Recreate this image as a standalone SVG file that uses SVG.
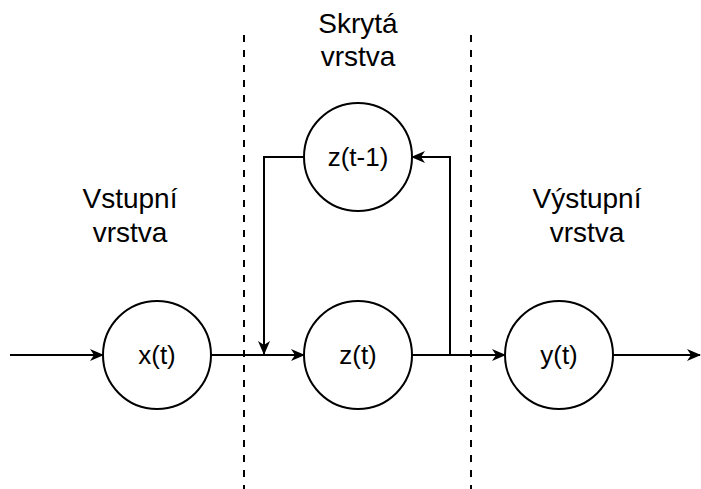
<svg xmlns="http://www.w3.org/2000/svg" width="701" height="489" viewBox="0 0 701 489">
  <style>
    .node circle { fill: #ffffff; stroke: #000000; stroke-width: 2; }
    .label { font-family: "Liberation Sans", Arial, sans-serif; font-size: 28px; fill: #000000; text-anchor: middle; }
    .node text { font-size: 26px; }
    .edge { fill: none; stroke: #000000; stroke-width: 2; }
    .divider { stroke: #000000; stroke-width: 2; stroke-dasharray: 7 8; }
  </style>
  <defs>
    <marker id="arrow" viewBox="0 0 14 12" refX="13" refY="6" markerWidth="14" markerHeight="12" markerUnits="userSpaceOnUse" orient="auto">
      <path d="M0,0 L14,6 L0,12 L4,6 Z" fill="#000000"/>
    </marker>
  </defs>
  <rect width="701" height="489" fill="#ffffff"/>

  <!-- layer dividers -->
  <g id="dividers">
    <line class="divider" x1="244" y1="35" x2="244" y2="489"/>
    <line class="divider" x1="471" y1="35" x2="471" y2="489"/>
  </g>

  <!-- layer titles -->
  <g id="titles">
    <text class="label" x="358" y="33">Skrytá</text>
    <text class="label" x="358" y="66">vrstva</text>
    <text class="label" x="130" y="208">Vstupní</text>
    <text class="label" x="130" y="242">vrstva</text>
    <text class="label" x="587" y="208">Výstupní</text>
    <text class="label" x="587" y="242">vrstva</text>
  </g>

  <!-- connectors -->
  <g id="connectors">
    <line class="edge" x1="10" y1="355" x2="103" y2="355" marker-end="url(#arrow)"/>
    <line class="edge" x1="211" y1="355" x2="304" y2="355" marker-end="url(#arrow)"/>
    <polyline class="edge" points="304,157 264,157 264,354" marker-end="url(#arrow)"/>
    <line class="edge" x1="412" y1="355" x2="505" y2="355" marker-end="url(#arrow)"/>
    <polyline class="edge" points="450,355 450,157 412,157" marker-end="url(#arrow)"/>
    <line class="edge" x1="613" y1="355" x2="700" y2="355" marker-end="url(#arrow)"/>
  </g>

  <!-- nodes -->
  <g id="node-x" class="node">
    <circle cx="157" cy="355" r="54"/>
    <text class="label" x="157" y="364">x(t)</text>
  </g>
  <g id="node-z" class="node">
    <circle cx="358" cy="355" r="54"/>
    <text class="label" x="358" y="364">z(t)</text>
  </g>
  <g id="node-zprev" class="node">
    <circle cx="358" cy="157" r="54"/>
    <text class="label" x="358" y="166">z(t-1)</text>
  </g>
  <g id="node-y" class="node">
    <circle cx="559" cy="355" r="54"/>
    <text class="label" x="559" y="364">y(t)</text>
  </g>
</svg>
